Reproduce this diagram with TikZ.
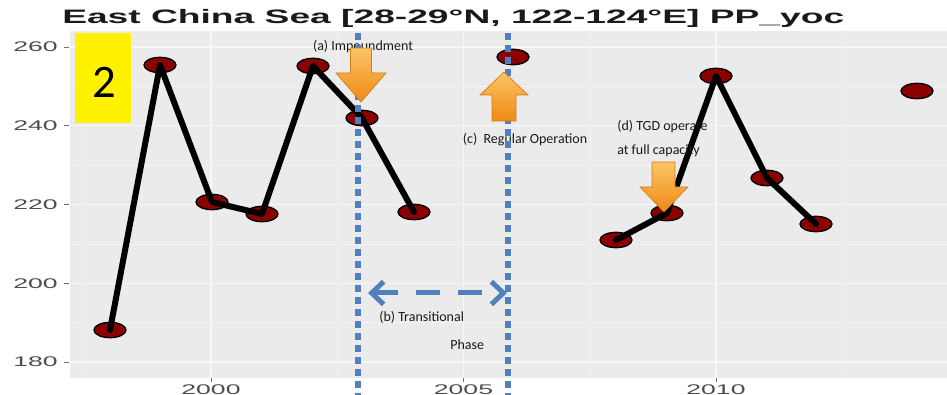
\documentclass[tikz,border=0pt]{standalone}
\usepackage{fontspec}
\setmainfont{Liberation Sans}
\newfontfamily\calib{Carlito}
\usetikzlibrary{arrows.meta,shapes.geometric}
\definecolor{panel}{HTML}{EBEBEB}
\definecolor{gridmaj}{HTML}{F7F7F7}
\definecolor{gridmin}{HTML}{F2F2F2}
\definecolor{dotred}{HTML}{8B0000}
\definecolor{obl}{HTML}{4F81BD}
\definecolor{orl}{HTML}{FCC468}
\definecolor{ord}{HTML}{EF8A14}
\definecolor{axg}{HTML}{4D4D4D}
\definecolor{ink}{HTML}{1A1A1A}
\begin{document}
\begin{tikzpicture}[x=0.75pt,y=-0.75pt,
  dot/.style={ellipse,draw=black,line width=1pt,fill=dotred,minimum width=24pt,minimum height=11.5pt,inner sep=0pt},
  series/.style={draw=black,line width=4.5pt,line join=round,line cap=round},
  majorgrid/.style={draw=gridmaj,line width=0.8pt},
  minorgrid/.style={draw=gridmin,line width=0.4pt},
  tickmark/.style={draw=axg!80,line width=0.6pt},
  ylab/.style={anchor=east,inner sep=0pt,text=axg,font=\fontsize{10.5}{12}\selectfont},
  xlab/.style={anchor=north,inner sep=0pt,text=axg,font=\fontsize{10.5}{12}\selectfont},
  note/.style={inner sep=0pt,text=ink,font=\calib\fontsize{10.5}{12}\selectfont},
  ybox/.style={fill=yellow,draw=none,minimum width=42pt,minimum height=67.5pt,inner sep=0pt},
  phaseline/.style={draw=obl,line width=4.5pt,dash pattern=on 5.25pt off 3.75pt},
  phasearrow/.style={draw=obl,line width=3.75pt,dash pattern=on 18pt off 13.5pt,
     {Straight Barb[length=9pt,width=17pt,line width=3.75pt]}-{Straight Barb[length=9pt,width=17pt,line width=3.75pt]}},
  orangearrow/.style={top color=orl,bottom color=ord,draw=ord!90!black,line width=0.5pt}]
\useasboundingbox (0,0) rectangle (947,395);
% panel
\fill[panel] (70,31) rectangle (947,378);
\begin{scope}
\clip (70,31) rectangle (947,378);
\foreach \yy in {86.4,165.1,243.9,322.6} \draw[minorgrid] (70,\yy) -- (947,\yy);
\foreach \xx in {85,337,590,842.5} \draw[minorgrid] (\xx,31) -- (\xx,378);
\foreach \yy in {47,125.75,204.5,283.25,362} \draw[majorgrid] (70,\yy) -- (947,\yy);
\foreach \xx in {211,463.5,716} \draw[majorgrid] (\xx,31) -- (\xx,378);
\end{scope}
% axes ticks and labels
\foreach \yy/\lab in {47/260,125.75/240,204.5/220,283.25/200,362/180}{
  \draw[tickmark] (64,\yy) -- (69,\yy);
  \node[ylab] at (58,\yy) {\scalebox{1.9}[1]{\lab}};
}
\foreach \xx/\lab in {211/2000,463.5/2005,716/2010}{
  \draw[tickmark] (\xx,378) -- (\xx,382);
  \node[xlab] at (\xx,384) {\scalebox{1.9}[1]{\lab}};
}
% title
\node[anchor=base west,inner sep=0pt,text=ink] (title) at (62,24)
  {\scalebox{1.91}[1]{\fontsize{14.6}{16}\selectfont\bfseries East China Sea [28-29°N, 122-124°E] PP\_yoc}};
% yellow label
\node[ybox] (box) at (103,78) {};
\node[inner sep=0pt,text=black,font=\calib\fontsize{35}{40}\selectfont] (two) at (104,82) {2};
% data points
\node[dot] (p1998) at (110,330) {};
\node[dot] (p1999) at (160,65) {};
\node[dot] (p2000) at (212,202) {};
\node[dot] (p2001) at (262,214) {};
\node[dot] (p2002) at (313,66) {};
\node[dot] (p2003) at (362,118) {};
\node[dot] (p2004) at (414,212) {};
\node[dot] (p2006) at (513,57) {};
\node[dot] (p2008) at (616,240) {};
\node[dot] (p2009) at (667,213) {};
\node[dot] (p2010) at (716,76) {};
\node[dot] (p2011) at (767,178) {};
\node[dot] (p2012) at (816,224) {};
\node[dot] (p2014) at (917,91) {};
\draw[series] (p1998.center) -- (p1999.center) -- (p2000.center) -- (p2001.center) -- (p2002.center) -- (p2003.center) -- (p2004.center);
\draw[series] (p2008.center) -- (p2009.center) -- (p2010.center) -- (p2011.center) -- (p2012.center);
% annotations
\node[note] (ta) at (363,47) {(a) Impoundment};
\node[note] (tc) at (525,140) {(c)\ \ Regular Operation};
\node[note,anchor=west] (td1) at (617,127) {(d) TGD operate};
\node[note,anchor=west] (td2) at (617,151) {at full capacity};
\node[note,anchor=west] (tb1) at (379,317) {(b) Transitional};
\node[note,anchor=west] (tb2) at (450,345) {Phase};
% phase lines
\coordinate (la) at (358,33);
\coordinate (lb) at (358,395);
\coordinate (lc) at (508,33);
\coordinate (ld) at (508,395);
\draw[phaseline] (la) -- (lb);
\draw[phaseline] (lc) -- (ld);
\coordinate (pa) at (368,293);
\coordinate (pb) at (507,293);
\draw[phasearrow] (pa) -- (pb);
% orange arrows
\shade[orangearrow] (350.5,48) -- (371.5,48) -- (371.5,73) -- (386,73) -- (361,102) -- (336,73) -- (350.5,73) -- cycle;
\shade[orangearrow] (492,121) -- (516,121) -- (516,95) -- (528,95) -- (504,72) -- (480,95) -- (492,95) -- cycle;
\shade[orangearrow] (652,162) -- (675,162) -- (675,187) -- (688,187) -- (664,212) -- (640,187) -- (652,187) -- cycle;
\end{tikzpicture}
\end{document}
